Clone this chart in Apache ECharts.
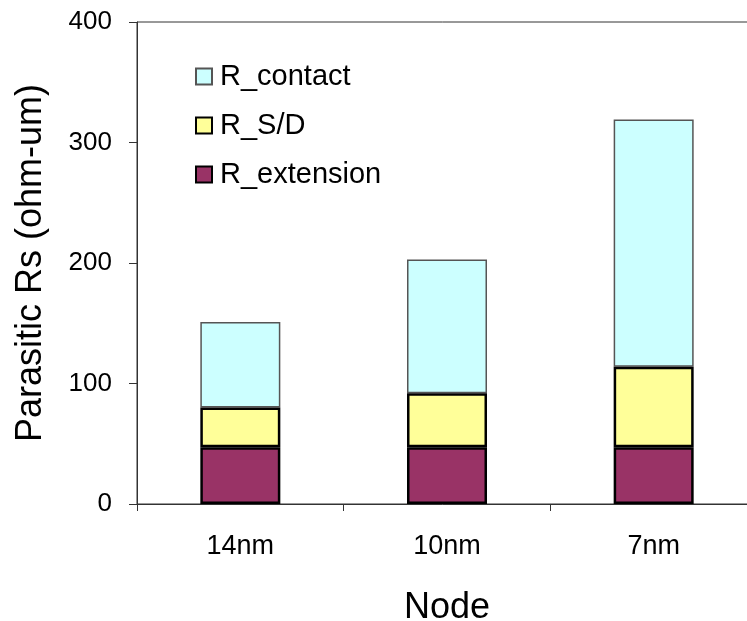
<!DOCTYPE html>
<html>
<head>
<meta charset="utf-8">
<script src="https://cdn.jsdelivr.net/npm/echarts@6/dist/echarts.min.js"></script>
<style>
html,body{margin:0;padding:0;background:#fff;}
#chart{width:747px;height:621px;}
</style>
</head>
<body>
<div id="chart"></div>
<script>
const categories = ['14nm', '10nm', '7nm'];
const rExtension = [47, 47, 47];
const rSD = [33, 45, 67];
const rContact = [71, 111, 205];
const yTicks = [0, 100, 200, 300, 400];
const seriesNames = ['R_extension', 'R_S/D', 'R_contact'];

const FONT = '"Liberation Sans", Arial, sans-serif';
const chart = echarts.init(document.getElementById('chart'), null, {renderer: 'canvas'});

chart.setOption({
  backgroundColor: '#ffffff',
  animation: false,
  grid: {
    left: 137, top: 22, right: -10, bottom: 117,
    outerBoundsMode: 'none',
    containLabel: false,
    show: true, borderColor: '#333', borderWidth: 1, backgroundColor: 'transparent'
  },
  legend: {
    orient: 'vertical',
    left: 190, top: 57,
    icon: 'rect',
    itemWidth: 16, itemHeight: 16,
    itemGap: 20,
    data: [seriesNames[2], seriesNames[1], seriesNames[0]],
    textStyle: {fontFamily: FONT, fontSize: 29, color: '#000', padding: [0, 0, 0, 3]}
  },
  xAxis: {
    type: 'category',
    data: categories,
    boundaryGap: true,
    name: 'Node',
    nameLocation: 'middle',
    nameGap: 86,
    nameTextStyle: {fontFamily: FONT, fontSize: 36, color: '#000'},
    axisLine: {lineStyle: {color: '#333', width: 1}},
    axisTick: {show: true, length: 7, lineStyle: {color: '#333'}},
    axisLabel: {fontFamily: FONT, fontSize: 27, color: '#000', margin: 29}
  },
  yAxis: {
    type: 'value',
    min: yTicks[0], max: yTicks[yTicks.length - 1], interval: 100,
    name: 'Parasitic Rs (ohm-um)',
    nameLocation: 'middle',
    nameGap: 88,
    nameTextStyle: {fontFamily: FONT, fontSize: 36, color: '#000'},
    axisLine: {show: true, lineStyle: {color: '#333', width: 1}},
    axisTick: {show: true, length: 8, lineStyle: {color: '#333'}},
    splitLine: {show: false},
    axisLabel: {fontFamily: FONT, fontSize: 26, color: '#000', margin: 25}
  },
  series: [
    {
      name: seriesNames[0], type: 'bar', stack: 'rs', data: rExtension, barWidth: 80, z: 3,
      itemStyle: {color: '#993366', borderColor: '#000', borderWidth: 2.5}
    },
    {
      name: seriesNames[1], type: 'bar', stack: 'rs', data: rSD, barWidth: 80, z: 3,
      itemStyle: {color: '#FFFF99', borderColor: '#000', borderWidth: 2.5}
    },
    {
      name: seriesNames[2], type: 'bar', stack: 'rs', data: rContact, barWidth: 80, z: 2,
      itemStyle: {color: '#CCFFFF', borderColor: '#555', borderWidth: 1.5}
    }
  ]
});
</script>
</body>
</html>
